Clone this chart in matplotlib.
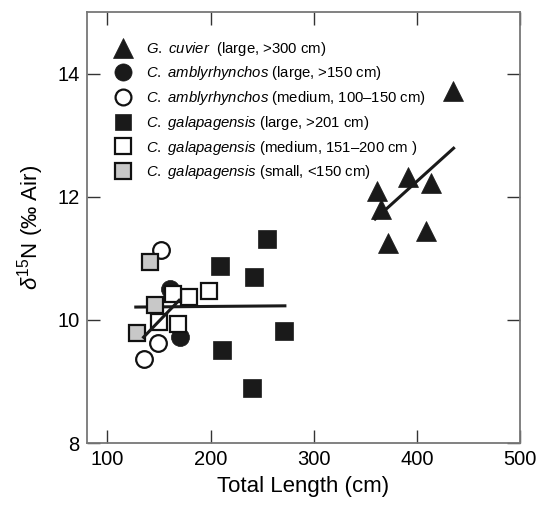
import matplotlib
matplotlib.use("Agg")
import matplotlib.pyplot as plt

plt.rcParams['font.family'] = ['Liberation Sans', 'DejaVu Sans']
plt.rcParams['mathtext.fontset'] = 'custom'
plt.rcParams['mathtext.rm'] = 'Liberation Sans'
plt.rcParams['mathtext.it'] = 'Liberation Sans:italic'

# G. cuvier (large, >300 cm)
cuv_x = [361, 365, 372, 391, 409, 414, 435]
cuv_y = [12.10, 11.81, 11.25, 12.33, 11.44, 12.22, 13.72]
# C. amblyrhynchos large
amb_l_x = [161, 170]
amb_l_y = [10.51, 9.72]
# C. amblyrhynchos medium
amb_m_x = [152, 149, 135.5]
amb_m_y = [11.13, 9.63, 9.36]
# C. galapagensis large
gal_l_x = [255, 209, 242, 271, 211, 240.5]
gal_l_y = [11.32, 10.87, 10.70, 9.82, 9.51, 8.90]
# C. galapagensis medium
gal_m_x = [198, 179, 164, 168.5, 150]
gal_m_y = [10.47, 10.38, 10.42, 9.93, 9.97]
# C. galapagensis small
gal_s_x = [141.5, 146, 128.5]
gal_s_y = [10.95, 10.25, 9.79]

# regression lines (endpoints)
fit_all_x = [127.5, 272]
fit_all_y = [10.21, 10.23]
fit_small_x = [135, 169.5]
fit_small_y = [9.72, 10.32]
fit_cuv_x = [359.5, 435.5]
fit_cuv_y = [11.64, 12.79]

fig = plt.figure(figsize=(5.39, 5.07), dpi=100)
ax = fig.add_axes([0.161, 0.126, 0.804, 0.850])

ec = '#111111'
black = '#1a1a1a'
grey = '#c8c8c8'
mew = 1.6

ax.plot(fit_all_x, fit_all_y, color=black, lw=2.2, zorder=2)

h_cuv, = ax.plot(cuv_x, cuv_y, '^', ms=15, mfc=black, mec=black, mew=0.5, ls='none', zorder=3,
                 label=r'$\it{G.\ cuvier}$  (large, >300 cm)')
h_gl, = ax.plot(gal_l_x, gal_l_y, 's', ms=12.5, mfc=black, mec=black, mew=0.5, ls='none', zorder=3,
                label=r'$\it{C.\ galapagensis}$ (large, >201 cm)')
h_al, = ax.plot(amb_l_x, amb_l_y, 'o', ms=13, mfc=black, mec=black, mew=0.5, ls='none', zorder=3,
                label=r'$\it{C.\ amblyrhynchos}$ (large, >150 cm)')
h_am, = ax.plot(amb_m_x, amb_m_y, 'o', ms=12, mfc='white', mec=ec, mew=mew, ls='none', zorder=3,
                label=r'$\it{C.\ amblyrhynchos}$ (medium, 100–150 cm)')
h_gm, = ax.plot(gal_m_x, gal_m_y, 's', ms=11.5, mfc='white', mec=ec, mew=mew, ls='none', zorder=3,
                label=r'$\it{C.\ galapagensis}$ (medium, 151–200 cm )')
h_gs, = ax.plot(gal_s_x, gal_s_y, 's', ms=11.5, mfc=grey, mec=ec, mew=mew, ls='none', zorder=4,
                label=r'$\it{C.\ galapagensis}$ (small, <150 cm)')

ax.plot(fit_small_x, fit_small_y, color=black, lw=2.2, zorder=5)
ax.plot(fit_cuv_x, fit_cuv_y, color=black, lw=2.2, zorder=5)

ax.set_xlim(80, 500)
ax.set_ylim(8, 15)
ax.set_xticks([100, 200, 300, 400, 500])
ax.set_yticks([8, 10, 12, 14])
ax.tick_params(direction='in', length=9.5, width=1.0, color='#333333', labelsize=14.5,
               top=True, right=True, pad=5)
for s in ax.spines.values():
    s.set_color('#777777')
    s.set_linewidth(1.3)

ax.set_xlabel('Total Length (cm)', fontsize=16, labelpad=5)
ax.set_ylabel(r'$\delta^{15}$N (‰ Air)', fontsize=16, labelpad=8)

leg = ax.legend(handles=[h_cuv, h_al, h_am, h_gl, h_gm, h_gs], loc='upper left',
                bbox_to_anchor=(0.04, 0.96), frameon=False, fontsize=10.7,
                handlelength=1.2, handletextpad=0.9, labelspacing=0.45,
                borderaxespad=0.3, markerscale=0.95)

fig.savefig('out.png', dpi=100)
